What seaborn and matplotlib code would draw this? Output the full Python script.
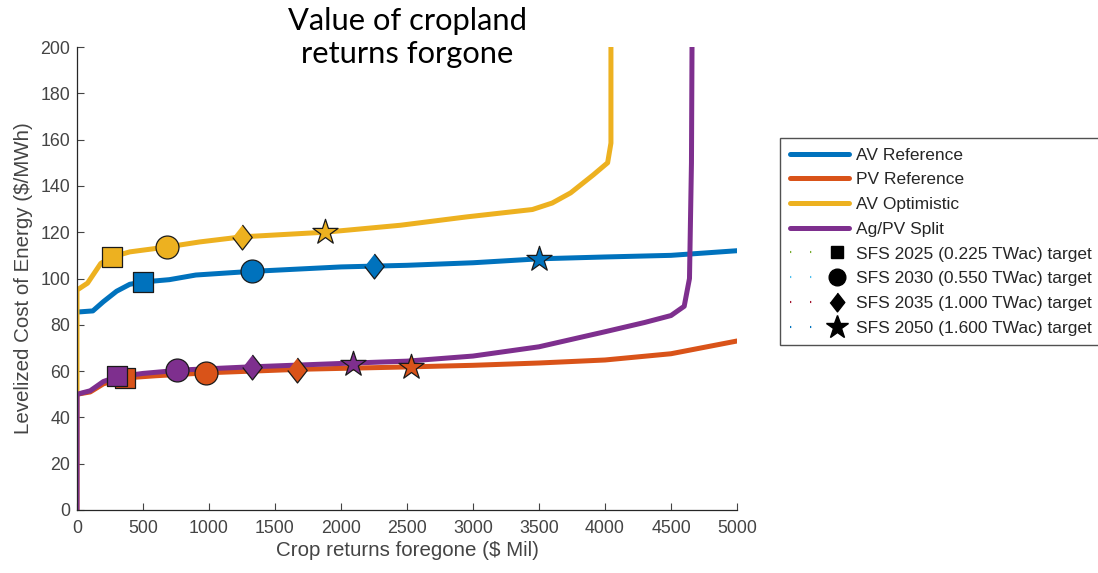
import matplotlib
matplotlib.use("Agg")
import matplotlib.pyplot as plt
from matplotlib.lines import Line2D
from matplotlib.legend_handler import HandlerTuple
import numpy as np
import pandas as pd
import seaborn as sns

# ---- data -------------------------------------------------------------
series_names = ["AV Reference", "PV Reference", "AV Optimistic", "Ag/PV Split"]
series_colors = ["#0072BD", "#D95319", "#EDB120", "#7E2F8E"]

av_ref_x = [0, 120, 200, 300, 400, 500, 700, 900, 1300, 2000, 2500, 3000, 3500, 4000, 4500, 5000]
av_ref_y = [85.5, 86, 90, 94.5, 97.5, 98.5, 99.5, 101.5, 103, 105, 105.7, 106.8, 108.5, 109.3, 110, 112]

pv_ref_x = [0, 0, 100, 200, 350, 600, 1000, 1700, 2500, 3000, 3500, 4000, 4500, 5000]
pv_ref_y = [0, 50, 51, 54.5, 57, 58, 59.3, 60.8, 61.8, 62.5, 63.5, 64.8, 67.5, 73]

av_opt_x = [0, 0, 80, 180, 265, 400, 680, 930, 1250, 1880, 2450, 2950, 3450, 3600, 3740, 3910, 4020, 4045, 4045]
av_opt_y = [50, 95, 98, 106.5, 109.3, 111.5, 113.6, 115.8, 118, 120, 123, 126.6, 129.8, 132.6, 137, 144.7, 150, 158.5, 210]

split_x = [0, 0, 100, 200, 300, 500, 800, 1300, 2000, 2500, 3000, 3500, 4000, 4300, 4500, 4600, 4640, 4655, 4660]
split_y = [0, 50, 51.5, 55.5, 57.5, 59, 60.5, 61.8, 63.3, 64.3, 66.5, 70.5, 77, 81, 84, 88, 100, 150, 210]

# SFS deployment targets: x / y position on each curve (2025, 2030, 2035, 2050)
target_labels = ["SFS 2025 (0.225 TWac) target", "SFS 2030 (0.550 TWac) target",
                 "SFS 2035 (1.000 TWac) target", "SFS 2050 (1.600 TWac) target"]
av_ref_tx = [500, 1326, 2250, 3500]
av_ref_ty = [98.5, 103.2, 105.5, 108.6]
pv_ref_tx = [364, 977, 1667, 2530]
pv_ref_ty = [57, 59.3, 60.5, 61.8]
av_opt_tx = [265, 682, 1250, 1879]
av_opt_ty = [109.3, 113.6, 118, 120]
split_tx = [303, 758, 1326, 2091]
split_ty = [57.8, 60.3, 61.6, 63.2]

x_ticks = list(range(0, 5001, 500))
y_ticks = list(range(0, 201, 20))

# ---- style ------------------------------------------------------------
sns.set_theme(style="ticks")
plt.rcParams["font.family"] = ["Liberation Sans", "DejaVu Sans"]
tick_grey = "#444444"

fig = plt.figure(figsize=(10.98, 5.73), dpi=100)
ax = fig.add_axes([77 / 1098, 63 / 573, 660 / 1098, 463 / 573])

curves = [(av_ref_x, av_ref_y), (pv_ref_x, pv_ref_y), (av_opt_x, av_opt_y), (split_x, split_y)]
for (xs, ys), name, col in zip(curves, series_names, series_colors):
    df = pd.DataFrame({"x": xs, "y": ys})
    sns.lineplot(data=df, x="x", y="y", ax=ax, sort=False, estimator=None,
                 color=col, linewidth=3.6, label=name, zorder=2, legend=False)

diamond = [(0, 1), (0.78, 0), (0, -1), (-0.78, 0)]
marker_shapes = ["s", "o", diamond, "*"]
marker_sizes = [14.5, 16.5, 18, 19]
targets = [(av_ref_tx, av_ref_ty), (pv_ref_tx, pv_ref_ty), (av_opt_tx, av_opt_ty), (split_tx, split_ty)]
for (txs, tys), col in zip(targets, series_colors):
    for tx, ty, mk, ms in zip(txs, tys, marker_shapes, marker_sizes):
        sns.scatterplot(x=[tx], y=[ty], ax=ax, marker=mk, s=ms ** 2, color=col,
                        edgecolor="#1a1a1a", linewidth=0.9, zorder=3, legend=False)

ax.set_xlim(0, 5000)
ax.set_ylim(0, 200)
ax.set_xticks(x_ticks)
ax.set_yticks(y_ticks)
ax.tick_params(direction="in", length=5, width=0.8, labelsize=12.8,
               colors=tick_grey, labelcolor=tick_grey)
ax.tick_params(axis="x", pad=7)
ax.tick_params(axis="y", pad=5)
for side in ["top", "right"]:
    ax.spines[side].set_visible(False)
for side in ["left", "bottom"]:
    ax.spines[side].set_color("#262626")
    ax.spines[side].set_linewidth(0.9)
ax.set_xlabel("Crop returns foregone ($ Mil)", fontsize=14.8, color=tick_grey, labelpad=3)
ax.set_ylabel("Levelized Cost of Energy ($/MWh)", fontsize=14.8, color=tick_grey, labelpad=5)

fig.text(407 / 1098, 1 - 7 / 573, "Value of cropland\nreturns forgone", ha="center", va="top",
         fontsize=22.2, family=["Lato", "DejaVu Sans"], color="black", linespacing=1.22)

# ---- legend -----------------------------------------------------------
handles = [Line2D([], [], color=c, lw=3.6) for c in series_colors]
dot_colors = ["#77AC30", "#4DBEEE", "#A2142F", "#0072BD"]
leg_sizes = [9, 12, 13.5, 17]
for mk, ms, dc in zip(marker_shapes, leg_sizes, dot_colors):
    dots = Line2D([], [], color=dc, lw=1.5, linestyle=(0, (0.6, 9.0)))
    mark = Line2D([], [], color="black", marker=mk, markersize=ms, linestyle="none")
    handles.append((dots, mark))
labels = series_names + target_labels
leg = fig.legend(handles, labels, loc="upper left", bbox_to_anchor=(780 / 1098, 1 - 138 / 573),
                 handler_map={tuple: HandlerTuple(ndivide=None)},
                 fontsize=12.5, frameon=True, fancybox=False, edgecolor="#262626",
                 handlelength=3.45, handletextpad=0.4, labelspacing=0.55, borderpad=0.55,
                 borderaxespad=0)
leg.get_frame().set_linewidth(1.0)

fig.savefig("out.png", dpi=100)
